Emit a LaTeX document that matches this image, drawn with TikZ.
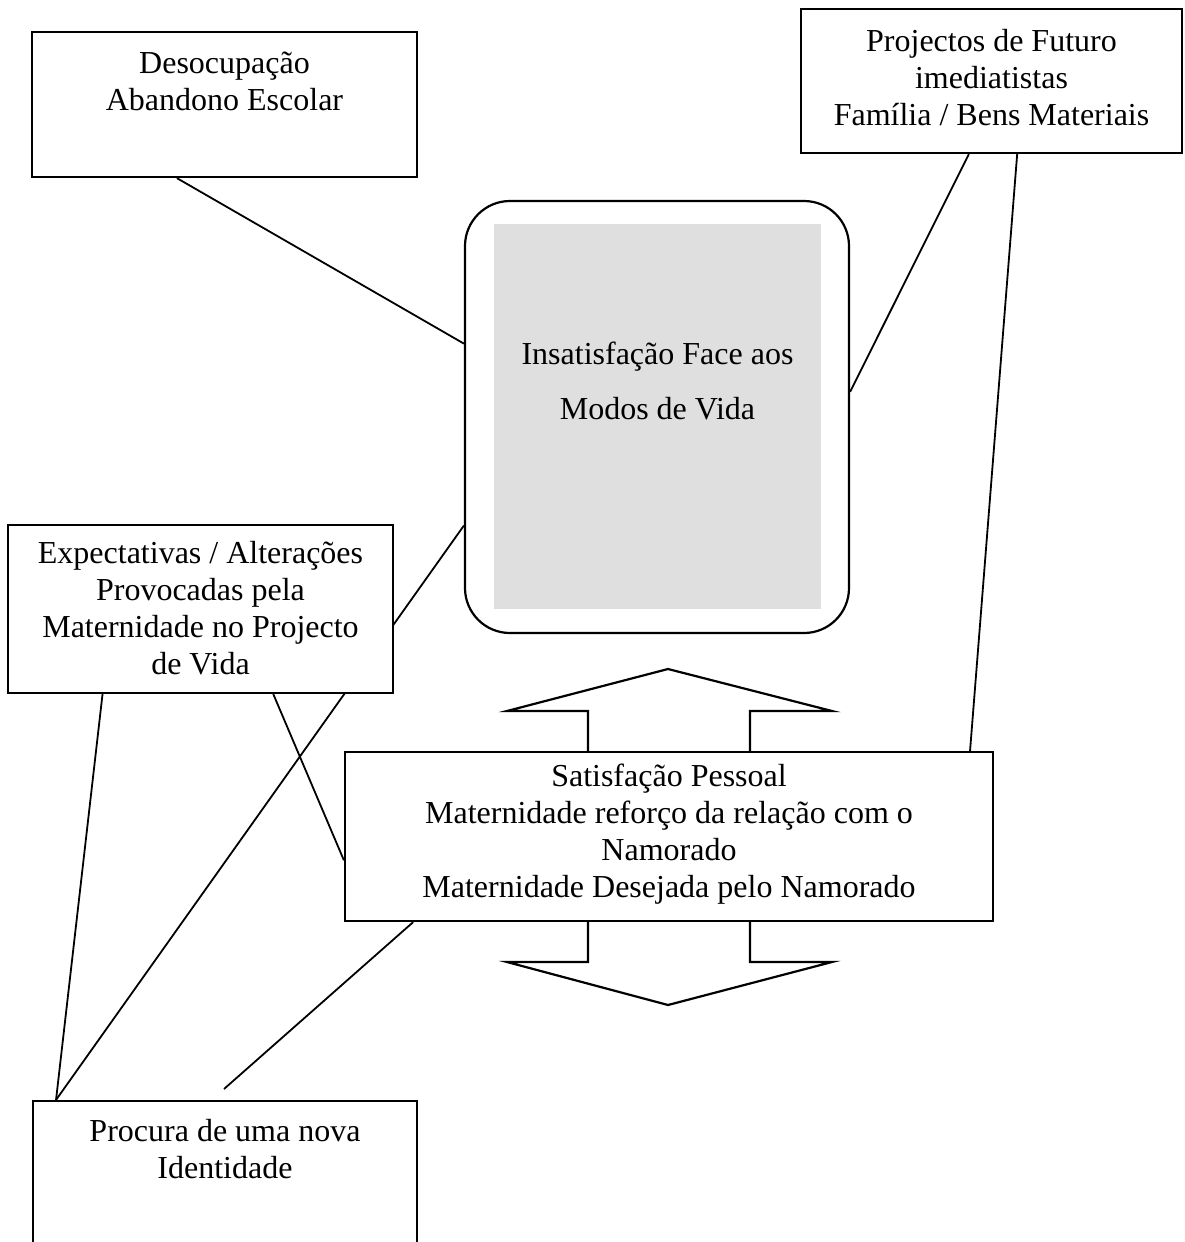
\documentclass[tikz,border=0pt]{standalone}
\usepackage{fontspec}
\setmainfont{Liberation Serif}
\usetikzlibrary{calc,backgrounds}
\definecolor{panelgray}{RGB}{223,223,223}
\begin{document}
\begin{tikzpicture}[x=1pt,y=-1pt,
  box/.style={draw, line width=2.2pt, fill=white, inner sep=0pt},
  txt/.style={font=\fontsize{32}{37}\selectfont, align=center, inner sep=0pt, anchor=base},
  link/.style={line width=1.8pt},
  bigarrow/.style={draw, line width=2.2pt, fill=white, line join=miter}]
\useasboundingbox (0,0) rectangle (1184,1242);
\clip (0,0) rectangle (1184,1242);

% boxes
\node[box, minimum width=385pt, minimum height=145pt] (deso) at (224.5,104.5) {};
\node[box, minimum width=381pt, minimum height=144pt] (proj) at (991.5,81) {};
\node[box, rounded corners=45pt, minimum width=384pt, minimum height=432pt] (insat) at (657,417) {};
\node[fill=panelgray, inner sep=0pt, minimum width=327pt, minimum height=385pt] (panel) at (657.5,416.5) {};
\node[box, minimum width=385pt, minimum height=168pt] (expe) at (200.5,609) {};
\node[box, minimum width=648pt, minimum height=169pt] (sat) at (669,836.5) {};
\node[box, minimum width=384pt, minimum height=189pt] (proc) at (225,1195.5) {};

% texts (placed by the baseline of their last line)
\node[txt] (desoT) at (224.5,110) {Desocupação\\Abandono Escolar};
\node[txt] (projT) at (991.5,125) {Projectos de Futuro\\imediatistas\\Família / Bens Materiais};
\node[txt, font=\fontsize{32}{55}\selectfont] (insatT) at (657.5,419) {Insatisfação Face aos\\Modos de Vida};
\node[txt] (expeT) at (200.5,674) {Expectativas / Alterações\\Provocadas pela\\Maternidade no Projecto\\de Vida};
\node[txt] (satT) at (669,897) {Satisfação Pessoal\\Maternidade reforço da relação com o\\Namorado\\Maternidade Desejada pelo Namorado};
\node[txt] (procT) at (225,1178) {Procura de uma nova\\Identidade};

\coordinate (loose) at (224,1089);

\begin{pgfonlayer}{background}
  \fill[white] (0,0) rectangle (1184,1242);
  % two-headed arrow behind the satisfaction box
  \path[bigarrow] (668,669) -- (832,711) -- (750,711) -- (750,962) -- (832,962)
    -- (668,1005) -- (507,962) -- (588,962) -- (588,711) -- (507,711) -- cycle;
  % connectors
  \draw[link] ($(deso.south west)!0.377!(deso.south east)$) -- ($(insat.north west)!0.331!(insat.south west)$);
  \draw[link] ($(proj.south west)!0.441!(proj.south east)$) -- ($(insat.north east)!0.442!(insat.south east)$);
  \draw[link] ($(proj.south west)!0.567!(proj.south east)$) -- ($(sat.north west)!0.963!(sat.north east)$);
  \draw[link] ($(insat.north west)!0.75!(insat.south west)$) -- ($(proc.north west)!0.0625!(proc.north east)$);
  \draw[link] ($(expe.south west)!0.247!(expe.south east)$) -- ($(proc.north west)!0.0625!(proc.north east)$);
  \draw[link] ($(expe.south west)!0.688!(expe.south east)$) -- ($(sat.north west)!0.639!(sat.south west)$);
  \draw[link] ($(sat.south west)!0.1065!(sat.south east)$) -- (loose);
\end{pgfonlayer}
\end{tikzpicture}
\end{document}
